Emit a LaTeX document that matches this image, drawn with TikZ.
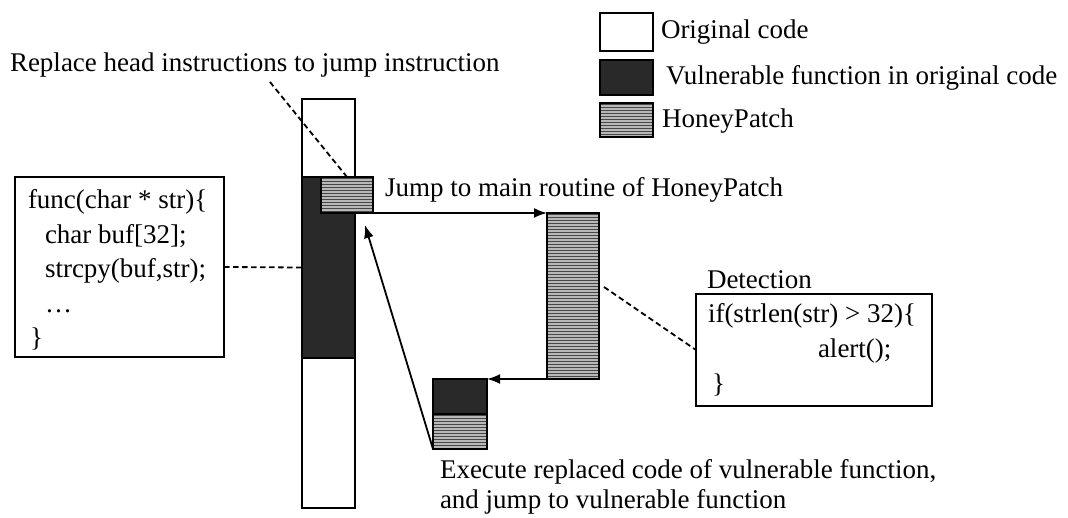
\documentclass[tikz,border=0pt]{standalone}
\usepackage{fontspec}
\setmainfont{Liberation Serif}
\usetikzlibrary{arrows.meta,calc}
\begin{document}
\begin{tikzpicture}[x=1pt,y=-1pt,
  every node/.style={font=\fontsize{27}{34}\selectfont},
  blk/.style={draw=black, line width=1.6pt, inner sep=0pt, outer sep=0pt},
  orig/.style={blk, fill=white},
  vuln/.style={blk, line width=2pt, fill=black!84},
  honey/.style={blk, line width=2pt, fill=black!28,
    path picture={
      \foreach \k in {1,...,60}{
        \draw[black!72, line width=1.3pt]
          ($(path picture bounding box.north west)+(0,\k*3-1.5)$) --
          ($(path picture bounding box.north east)+(0,\k*3-1.5)$);
      }}},
  codebox/.style={draw=black, line width=1.8pt, fill=white, inner sep=0pt, outer sep=0pt},
  txt/.style={anchor=base west, inner sep=0pt, outer sep=0pt},
  lead/.style={line width=1.8pt, dash pattern=on 5.5pt off 3.5pt},
  flow/.style={line width=1.8pt, -{Latex[length=13pt,width=10pt]}}
]
\useasboundingbox (0,0) rectangle (1068,518);

% legend
\node[orig,  minimum width=53pt, minimum height=38pt] (lgorig)  at (626.5,32)   {};
\node[vuln,  minimum width=53pt, minimum height=35pt] (lgvuln)  at (626.5,77.5) {};
\node[honey, minimum width=53pt, minimum height=34pt] (lghoney) at (626.5,120)  {};
\node[txt] (lgorigtxt)  at (661,39)    {Original code};
\node[txt] (lgvulntxt)  at (666,85)    {Vulnerable function in original code};
\node[txt] (lghoneytxt) at (662,127.5) {HoneyPatch};

% memory column of the original program
\node[orig, minimum width=53pt, minimum height=409pt] (column) at (328.5,303.5) {};
\node[vuln, minimum width=53pt, minimum height=181pt] (vfunc)  at (328.5,267.5) {};
\node[honey, minimum width=52pt, minimum height=36pt] (head)   at (347,195)     {};

% main routine of HoneyPatch
\node[honey, minimum width=52pt, minimum height=166pt] (main) at (573,296) {};

% relocated head instructions
\node[vuln,  minimum width=54pt, minimum height=35pt] (svuln)  at (460,396.5) {};
\node[honey, minimum width=54pt, minimum height=35pt] (shoney) at (460,431.5) {};

% source of the vulnerable function
\node[codebox, minimum width=209pt, minimum height=180pt] (func) at (119.5,267) {};
\node[txt] (f1) at (28,209)   {func(char * str)\{};
\node[txt] (f2) at (45,243.5) {char buf[32];};
\node[txt] (f3) at (45,278)   {strcpy(buf,str);};
\node[txt] (f4) at (45,312.5) {\dots};
\node[txt] (f5) at (30,347)   {\}};

% detection code
\node[codebox, minimum width=236pt, minimum height=112pt] (det) at (814,350) {};
\node[txt] (dettitle) at (707,289) {Detection};
\node[txt] (d1) at (708,323)   {if(strlen(str) > 32)\{};
\node[txt] (d2) at (818,357.5) {alert();};
\node[txt] (d3) at (712,392)   {\}};

% labels
\node[txt] (replace) at (10,72)  {Replace head instructions to jump instruction};
\node[txt] (jump)    at (385,197) {Jump to main routine of HoneyPatch};
\node[txt] (exec1)   at (440,478) {Execute replaced code of vulnerable function,};
\node[txt] (exec2)   at (440,508) {and jump to vulnerable function};

% leader lines
\coordinate (replacefoot) at (270,82);
\coordinate (mainside)    at (604,287);
\draw[lead] (replacefoot) -- (head.north);
\draw[lead] (func.east) -- (vfunc.west);
\draw[lead] (mainside) -- (det.west);

% control flow
\coordinate (back) at (365,225);
\draw[flow] (head.south east) -- (main.north west);
\draw[flow] (main.south west) -- (svuln.north east);
\draw[flow] (shoney.south west) -- (back);
\end{tikzpicture}
\end{document}
